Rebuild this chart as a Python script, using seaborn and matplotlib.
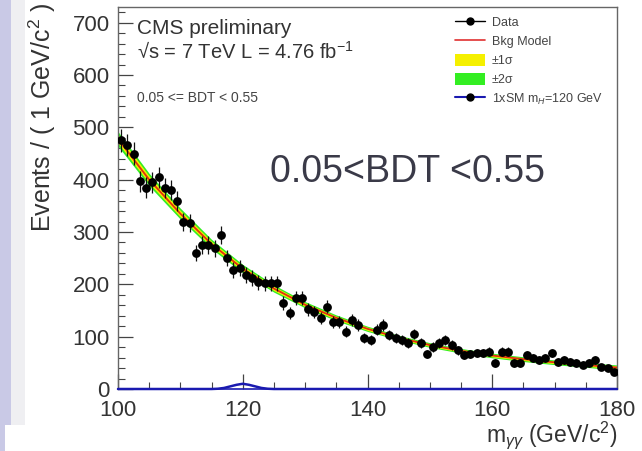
import numpy as np
import matplotlib
matplotlib.use("Agg")
import matplotlib.pyplot as plt
import seaborn as sns
from matplotlib.lines import Line2D
from matplotlib.patches import Patch, Rectangle
from matplotlib.ticker import MultipleLocator

# ---------------- data ----------------
bin_centers = np.arange(100.5, 180.0, 1.0)   # 1 GeV bins, 100-180
data_counts = [475, 466, 450, 397, 385, 395, 405, 384, 380, 359,
               319, 317, 260, 275, 275, 269, 294, 250, 227, 231,
               218, 212, 204, 202, 202, 202, 164, 145, 174, 174,
               152, 147, 135, 157, 128, 128, 109, 131, 122, 97,
               93, 113, 122, 103, 97, 93, 88, 105, 88, 67,
               80, 88, 94, 84, 74, 65, 67, 69, 69, 71,
               50, 71, 71, 50, 50, 65, 59, 55, 59, 69,
               52, 55, 52, 50, 46, 50, 55, 42, 40, 33]

bkg_mass = [100, 105, 110, 115, 120, 125, 130, 135, 140, 145, 150,
            155, 160, 165, 170, 175, 180]
bkg_model = [478, 400, 335, 277, 230, 192, 161, 136, 115, 98, 84,
             73, 64, 57, 51, 46, 41]
band1_half = [8, 7, 6, 5, 4.5, 4, 3.5, 3, 3, 2.5, 2.5, 2.5, 2.5, 2.5, 2.5, 2.5, 3]
band2_half = [14, 12, 10.5, 9, 8, 7, 6, 5.5, 5, 4.5, 4.5, 4.5, 4.5, 4.5, 4.5, 4.5, 5]

sig_mass = [100, 115, 116, 117, 118, 119, 120, 121, 122, 123, 124, 125, 180]
sig_model = [0, 0, 0.5, 2, 5, 8, 10, 8, 5, 2, 0.5, 0, 0]

x_ticks = [100, 120, 140, 160, 180]
y_ticks = [0, 100, 200, 300, 400, 500, 600, 700]

# ---------------- style ----------------
sns.set_style("ticks")
plt.rcParams['font.family'] = ['Liberation Sans', 'DejaVu Sans']
plt.rcParams['mathtext.fontset'] = 'custom'
plt.rcParams['mathtext.rm'] = 'Liberation Sans'
plt.rcParams['mathtext.it'] = 'Liberation Sans:italic'
plt.rcParams['mathtext.bf'] = 'Liberation Sans:bold'

W, H = 642, 451
fig = plt.figure(figsize=(W / 100, H / 100), dpi=100)
fig.patch.set_facecolor('white')

# decorative strips on the left of the image
fig.add_artist(Rectangle((0, 26 / H), 11 / W, 425 / H, transform=fig.transFigure,
                         facecolor='#c9c9e6', edgecolor='none', zorder=0))
fig.add_artist(Rectangle((11 / W, 26 / H), 14 / W, 425 / H, transform=fig.transFigure,
                         facecolor='#efeff2', edgecolor='none', zorder=0))
fig.add_artist(Rectangle((0, 0), 5 / W, 26 / H, transform=fig.transFigure,
                         facecolor='#c9c9e6', edgecolor='none', zorder=0))

AX_L, AX_R, AX_T, AX_B = 118, 617, 7, 389
ax = fig.add_axes([AX_L / W, 1 - AX_B / H, (AX_R - AX_L) / W, (AX_B - AX_T) / H])
ax.set_facecolor('white')

def fx(px):
    return (px - AX_L) / (AX_R - AX_L)

def fy(py):
    return (AX_B - py) / (AX_B - AX_T)

bm = np.array(bkg_model, dtype=float)
b1 = np.array(band1_half)
b2 = np.array(band2_half)
ax.fill_between(bkg_mass, bm - b2, bm + b2, color='#33ee22', lw=0, zorder=1)
ax.fill_between(bkg_mass, bm - b1, bm + b1, color='#f5f000', lw=0, zorder=2)
sns.lineplot(x=bkg_mass, y=bkg_model, color='#e03010', lw=1.3, ax=ax, zorder=3)

counts = np.array(data_counts, dtype=float)
ax.errorbar(bin_centers, counts, yerr=np.sqrt(counts), xerr=0.5, fmt='none',
            ecolor='#111111', elinewidth=0.9, capsize=0, zorder=4)
sns.scatterplot(x=bin_centers, y=counts, color='black', edgecolor='black',
                s=40, linewidth=0, ax=ax, zorder=5)

sns.lineplot(x=sig_mass, y=sig_model, color='#1a1ab0', lw=1.8, ax=ax, zorder=6,
             clip_on=False)

ax.set_xlim(100, 180)
ax.set_ylim(0, 730)
ax.set_xticks(x_ticks)
ax.set_yticks(y_ticks)
ax.xaxis.set_minor_locator(MultipleLocator(5))
ax.yaxis.set_minor_locator(MultipleLocator(20))
ax.tick_params(which='major', direction='in', length=11, width=0.9,
               colors='#444444', labelcolor='#333333', labelsize=16, pad=6)
ax.tick_params(axis='x', which='major', pad=8)
ax.tick_params(which='minor', direction='in', length=5, width=0.8, colors='#444444')
for s in ['top', 'right', 'left']:
    ax.spines[s].set_color('#666666')
    ax.spines[s].set_linewidth(1.0)
ax.spines['bottom'].set_color('#1a1ab0')
ax.spines['bottom'].set_linewidth(1.2)

ax.set_ylabel('Events / ( 1 GeV/c$^{2}$ )', fontsize=18, color='#333333')
ylab = ax.yaxis.label
ylab.set_rotation(90)
ylab.set_rotation_mode('default')
ylab.set_horizontalalignment('center')
ylab.set_verticalalignment('top')
ax.yaxis.set_label_coords(fx(42), fy(3))

ax.set_xlabel(r'm$_{\gamma\gamma}$ (GeV/c$^{2}$)', fontsize=16.5, color='#333333', loc='right')
xlab = ax.xaxis.label
xlab.set_verticalalignment('top')
ax.xaxis.set_label_coords(1.0, fy(419))

# annotations
ax.text(fx(137), fy(29), 'CMS preliminary', transform=ax.transAxes, fontsize=15,
        color='#333333', ha='left', va='center')
ax.text(fx(137), fy(52), '√s = 7 TeV L = 4.76 fb$^{-1}$', transform=ax.transAxes,
        fontsize=14.5, color='#333333', ha='left', va='center')
ax.text(fx(137), fy(98), '0.05 <= BDT < 0.55', transform=ax.transAxes, fontsize=10,
        color='#444444', ha='left', va='center')
ax.text(fx(407), fy(172), '0.05<BDT <0.55', transform=ax.transAxes, fontsize=27,
        color='#3a3a48', ha='center', va='center')

handles = [
    Line2D([], [], color='black', marker='o', markersize=5, lw=1.0),
    Line2D([], [], color='#e03030', lw=1.2),
    Patch(facecolor='#f5f000', edgecolor='none'),
    Patch(facecolor='#33ee22', edgecolor='none'),
    Line2D([], [], color='#1a1ab0', marker='o', markerfacecolor='black',
           markeredgecolor='black', markersize=5, lw=1.5),
]
labels = ['Data', 'Bkg Model', '±1σ', '±2σ', '1xSM m$_{H}$=120 GeV']
leg = ax.legend(handles, labels, loc='upper left', bbox_to_anchor=(fx(455), fy(16)),
                bbox_transform=ax.transAxes, frameon=False, fontsize=9,
                handlelength=2.4, handleheight=1.1, handletextpad=0.55,
                labelspacing=0.45, borderpad=0, borderaxespad=0)
for t in leg.get_texts():
    t.set_color('#444444')

fig.savefig('out.png', dpi=100, facecolor='white')
